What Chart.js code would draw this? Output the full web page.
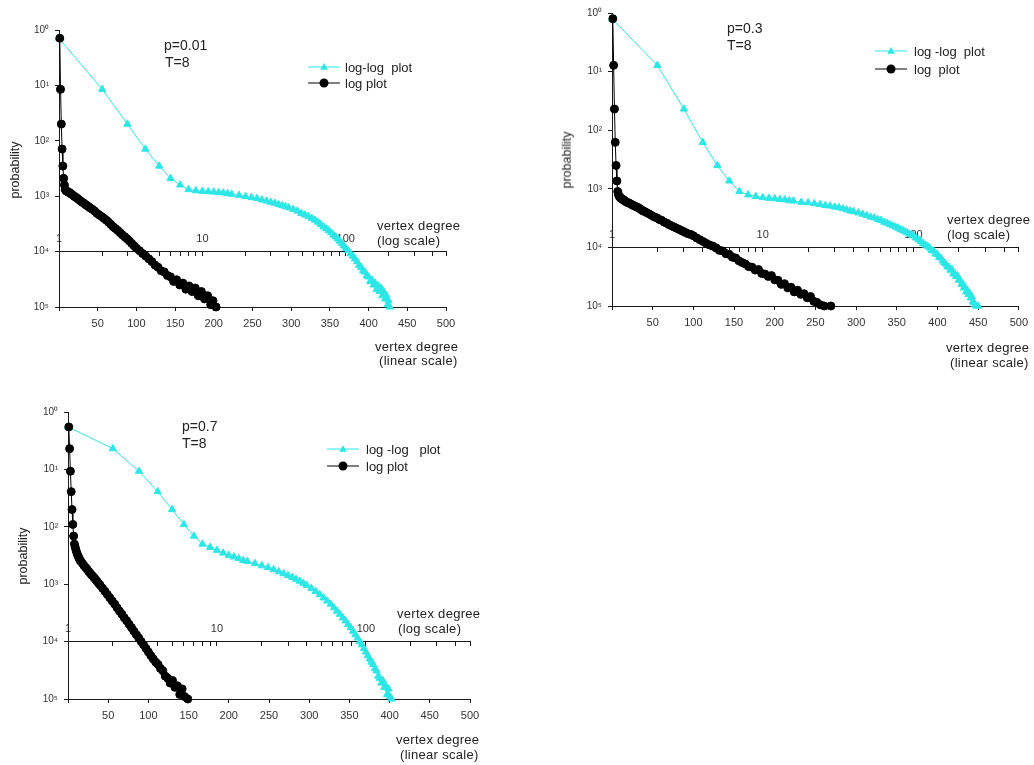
<!DOCTYPE html>
<html>
<head>
<meta charset="utf-8">
<title>vertex degree distribution, T=8</title>
<script src="https://cdn.jsdelivr.net/npm/chart.js@4.4.1/dist/chart.umd.min.js"></script>
<style>
  body { margin: 0; width: 1034px; height: 765px; background: #fff; position: relative; overflow: hidden;
         font-family: "Liberation Sans", Arial, sans-serif; color: #222; }
  canvas { position: absolute; }
  .txt { position: absolute; white-space: pre; line-height: 1; }
  .note { font-size: 14px; }
  .ax { font-size: 13px; letter-spacing: 0.3px; }
  .leg { font-size: 13px; }
  .ylab { font-size: 12.5px; transform: translate(-50%, -50%) rotate(-90deg); }
  .key { position: absolute; }
</style>
</head>
<body>
<canvas id="c1"></canvas>
<canvas id="c2"></canvas>
<canvas id="c3"></canvas>

<!-- panel p=0.01 -->
<div class="txt note" style="left:164px;top:38px">p=0.01</div>
<div class="txt note" style="left:165px;top:55px">T=8</div>
<svg class="key" style="left:308px;top:62px" width="32" height="10"><line x1="0" y1="5" x2="32" y2="5" stroke="#2de6e6"/><polygon points="16,1 19.8,7.8 12.2,7.8" fill="#2de6e6"/></svg>
<div class="txt leg" style="left:345px;top:61px">log-log  plot</div>
<svg class="key" style="left:308px;top:78px" width="32" height="10"><line x1="0" y1="5" x2="32" y2="5" stroke="#000"/><circle cx="16" cy="5" r="4.5" fill="#000"/></svg>
<div class="txt leg" style="left:345px;top:77px">log plot</div>
<div class="txt ax" style="left:377px;top:219px">vertex degree</div>
<div class="txt ax" style="left:377px;top:234px">(log scale)</div>
<div class="txt ax" style="left:375px;top:340px">vertex degree</div>
<div class="txt ax" style="left:379px;top:354px">(linear scale)</div>
<div class="txt ylab" style="left:15px;top:170px">probability</div>

<!-- panel p=0.3 -->
<div class="txt note" style="left:727px;top:21px">p=0.3</div>
<div class="txt note" style="left:727px;top:38px">T=8</div>
<svg class="key" style="left:875px;top:46px" width="32" height="10"><line x1="0" y1="5" x2="32" y2="5" stroke="#2de6e6"/><polygon points="16,1 19.8,7.8 12.2,7.8" fill="#2de6e6"/></svg>
<div class="txt leg" style="left:914px;top:45px">log -log  plot</div>
<svg class="key" style="left:875px;top:64px" width="32" height="10"><line x1="0" y1="5" x2="32" y2="5" stroke="#000"/><circle cx="16" cy="5" r="4.5" fill="#000"/></svg>
<div class="txt leg" style="left:914px;top:63px">log  plot</div>
<div class="txt ax" style="left:947px;top:213px">vertex degree</div>
<div class="txt ax" style="left:947px;top:228px">(log scale)</div>
<div class="txt ax" style="left:946px;top:341px">vertex degree</div>
<div class="txt ax" style="left:950px;top:356px">(linear scale)</div>
<div class="txt ylab" style="left:567px;top:160px">probability</div>

<!-- panel p=0.7 -->
<div class="txt note" style="left:182px;top:419px">p=0.7</div>
<div class="txt note" style="left:182px;top:436px">T=8</div>
<svg class="key" style="left:327px;top:444px" width="32" height="10"><line x1="0" y1="5" x2="32" y2="5" stroke="#2de6e6"/><polygon points="16,1 19.8,7.8 12.2,7.8" fill="#2de6e6"/></svg>
<div class="txt leg" style="left:366px;top:443px">log -log   plot</div>
<svg class="key" style="left:327px;top:461px" width="32" height="10"><line x1="0" y1="5" x2="32" y2="5" stroke="#000"/><circle cx="16" cy="5" r="4.5" fill="#000"/></svg>
<div class="txt leg" style="left:366px;top:460px">log plot</div>
<div class="txt ax" style="left:397px;top:607px">vertex degree</div>
<div class="txt ax" style="left:398px;top:622px">(log scale)</div>
<div class="txt ax" style="left:396px;top:733px">vertex degree</div>
<div class="txt ax" style="left:400px;top:748px">(linear scale)</div>
<div class="txt ylab" style="left:23px;top:556px">probability</div>

<script>
// degree distributions (same data drawn twice:
// black against the linear degree axis, cyan against the log degree axis)
const degP001 = [1, 2, 3, 4, 5, 6, 7, 8, 9, 10, 11, 12, 13, 14, 15, 16,
  18, 20, 22, 24, 26, 28, 30, 32, 34, 36, 38, 40,
  43, 46, 49, 52, 55, 58, 61, 64, 67, 70, 73, 76, 79, 82, 85, 88, 91, 94, 97, 100,
  104, 108, 112, 116, 120, 124, 128, 132, 136, 140, 144, 148, 152, 156, 160, 164,
  168, 172, 176, 180, 184, 188, 192, 196, 199, 203];
const probP001 = [0.71, 0.085, 0.020, 0.0071, 0.0035, 0.0021, 0.0016, 0.00132, 0.00126, 0.00123,
  0.00121, 0.00119, 0.00117, 0.00115, 0.00112, 0.00109,
  0.00104, 0.00099, 0.00095, 0.00091, 0.00086, 0.00082, 0.00078, 0.00075, 0.00071, 0.00068, 0.00065, 0.00062,
  0.00058, 0.00054, 0.00049, 0.00046, 0.00043, 0.00040, 0.00037, 0.00034, 0.00031, 0.00028,
  0.00026, 0.00024, 0.00022, 0.00020, 0.000185, 0.000170, 0.000155, 0.000140, 0.000127, 0.000115,
  0.000104, 0.000092, 0.000083, 0.000074, 0.000066, 0.000057, 0.000052, 0.000045, 0.000043, 0.000037,
  0.000035, 0.000029, 0.000031, 0.000025, 0.000027, 0.000021, 0.000024, 0.000019, 0.000022, 0.000016,
  0.000019, 0.000014, 0.000016, 0.000011, 0.000013, 0.000010];

const degP03 = [1, 2, 3, 4, 5, 6, 7, 8, 9, 10, 11, 12, 13, 14, 15, 16,
  18, 20, 22, 24, 26, 28, 30, 32, 34, 36, 38, 40,
  43, 46, 49, 52, 55, 58, 61, 64, 67, 70, 73, 76, 79, 82, 85, 88, 91, 94, 97, 100,
  104, 108, 112, 116, 120, 124, 128, 132, 136, 140, 144, 148, 152, 156, 160, 164, 168, 172, 176,
  180, 184, 188, 192, 196, 200, 204, 208, 212, 216, 220, 224, 228, 232, 236, 240, 244, 248, 252,
  256, 261, 269];
const probP03 = [0.80, 0.128, 0.023, 0.0062, 0.0025, 0.00136, 0.00090, 0.00079, 0.00074, 0.00071,
  0.00069, 0.00068, 0.00066, 0.00065, 0.00063, 0.00062,
  0.00059, 0.00058, 0.00056, 0.00054, 0.00052, 0.00051, 0.00049, 0.00048, 0.00046, 0.00044, 0.00042, 0.00041,
  0.00039, 0.00037, 0.00035, 0.00033, 0.00032, 0.00030, 0.00029, 0.00027, 0.00026, 0.000245,
  0.000234, 0.000224, 0.000214, 0.000204, 0.000195, 0.000186, 0.000178, 0.000170, 0.000166, 0.000158,
  0.000145, 0.000135, 0.000126, 0.000117, 0.000110, 0.000105, 0.000098, 0.000089, 0.000087, 0.000078,
  0.000076, 0.000068, 0.000066, 0.000059, 0.000055, 0.000052, 0.000047, 0.000046, 0.000041,
  0.000042, 0.000036, 0.000035, 0.000032, 0.000033, 0.000028, 0.0000275, 0.0000234, 0.000024,
  0.0000204, 0.0000209, 0.0000174, 0.0000186, 0.0000158, 0.0000162, 0.0000138, 0.0000145, 0.000012, 0.0000115,
  0.0000105, 0.000010, 0.000010];

const degP07 = [1, 2, 3, 4, 5, 6, 7, 8, 9, 10, 11, 12, 13, 14, 15, 16,
  18, 20, 22, 24, 26, 28, 30, 32, 34, 36, 38, 40,
  43, 46, 49, 52, 55, 58, 61, 64, 67, 70, 73, 76, 79, 82, 85, 88, 91, 94, 97, 100,
  103, 106, 109, 112, 115, 118, 121, 124, 127, 130, 133, 136, 139, 142, 145, 149];
const probP07 = [0.55, 0.23, 0.093, 0.041, 0.020, 0.011, 0.0069, 0.0050, 0.0044, 0.0039,
  0.0035, 0.0032, 0.0030, 0.0028, 0.0026, 0.0025,
  0.0023, 0.0021, 0.00195, 0.00180, 0.00165, 0.00153, 0.00142, 0.00132, 0.00122, 0.00113, 0.00104, 0.00096,
  0.00085, 0.00075, 0.00066, 0.00058, 0.00051, 0.00045, 0.00039, 0.00034, 0.00030, 0.00026,
  0.00023, 0.00020, 0.000175, 0.000152, 0.000132, 0.000116, 0.000100, 0.000088, 0.000076, 0.000066,
  0.000057, 0.000050, 0.000044, 0.000040, 0.000034, 0.000031, 0.000025, 0.000023, 0.000019, 0.000021,
  0.000016, 0.000017, 0.000012, 0.000015, 0.000011, 0.000010];

// axis ticks
const yTickValues = [1e-5, 1e-4, 1e-3, 1e-2, 1e-1, 1];
const yTickLabels = ['10⁵', '10⁴', '10³', '10²', '10¹', '10⁰'];
const linTickValues = [0, 50, 100, 150, 200, 250, 300, 350, 400, 450, 500];
const logTickValues = [1, 2, 3, 4, 5, 6, 7, 8, 9, 10, 20, 30, 40, 50, 60, 70, 80, 90, 100, 200, 300, 400, 500];
const logLabelValues = [1, 10, 100];

const CYAN = '#2de6e6';
Chart.defaults.font.family = '"Liberation Sans", Arial, sans-serif';
Chart.defaults.color = '#333';

function panel(id, box, deg, prob) {
  const cv = document.getElementById(id);
  cv.width = box.w; cv.height = box.h;
  cv.style.left = box.x + 'px'; cv.style.top = box.y + 'px';
  const pts = deg.map((d, i) => ({ x: d, y: prob[i] }));
  const border = { color: '#1a1a1a', width: 1 };
  const grid = { drawOnChartArea: false, tickLength: 4, color: '#1a1a1a' };

  return new Chart(cv, {
    type: 'scatter',
    data: {
      datasets: [
        { label: 'log plot', data: pts, xAxisID: 'x', yAxisID: 'y', showLine: true,
          borderColor: '#000', backgroundColor: '#000', borderWidth: 1,
          pointRadius: 4, pointBorderWidth: 1, clip: false },
        { label: 'log-log plot', data: pts, xAxisID: 'x2', yAxisID: 'y', showLine: true,
          borderColor: CYAN, backgroundColor: CYAN, borderWidth: 1,
          pointStyle: 'triangle', pointRadius: 4.2, pointBorderWidth: 1, clip: false }
      ]
    },
    options: {
      responsive: false,
      animation: false,
      events: [],
      layout: { padding: { left: 0, bottom: 0, top: box.T - box.y, right: box.x + box.w - box.R } },
      plugins: { legend: { display: false }, tooltip: { enabled: false } },
      scales: {
        x: {
          type: 'linear', position: 'bottom', min: 0, max: 500,
          afterFit: s => { s.height = box.y + box.h - box.B; },
          afterBuildTicks: s => { s.ticks = linTickValues.map(v => ({ value: v })); },
          grid: grid, border: border,
          ticks: { autoSkip: false, maxRotation: 0, padding: 6, font: { size: 11 },
                   callback: v => v === 0 ? '' : String(v) }
        },
        x2: {
          type: 'logarithmic', position: { y: 1e-4 }, min: 1, max: 500,
          afterBuildTicks: s => { s.ticks = logTickValues.map(v => ({ value: v })); },
          grid: grid, border: border,
          ticks: { autoSkip: false, maxRotation: 0, padding: -23, font: { size: 11 },
                   callback: v => logLabelValues.includes(v) ? String(v) : '' }
        },
        y: {
          type: 'logarithmic', position: 'left', min: 1e-5, max: 1,
          afterFit: s => { s.width = box.L - box.x; },
          afterBuildTicks: s => { s.ticks = yTickValues.map(v => ({ value: v })); },
          grid: grid, border: border,
          ticks: { autoSkip: false, padding: 6, font: { size: 10 },
                   callback: (v, i) => yTickLabels[i] }
        }
      }
    }
  });
}

panel('c1', { x: 0, y: 0, w: 470, h: 335, L: 59, T: 30, R: 446, B: 307 }, degP001, probP001);
panel('c2', { x: 560, y: 0, w: 474, h: 335, L: 612, T: 13, R: 1021, B: 306 }, degP03, probP03);
panel('c3', { x: 0, y: 380, w: 500, h: 385, L: 68, T: 412, R: 470, B: 699 }, degP07, probP07);
</script>
</body>
</html>
